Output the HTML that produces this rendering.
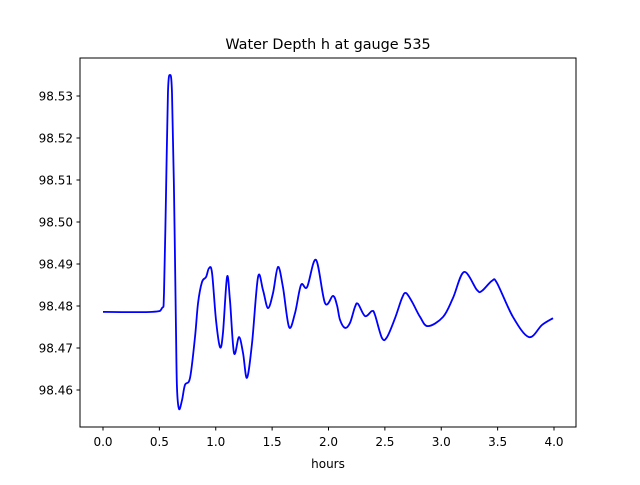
<!DOCTYPE html>
<html><head><meta charset="utf-8"><style>
body{margin:0;background:#fff}
text{font-family:"DejaVu Sans","Liberation Sans",sans-serif;fill:#000}
</style></head><body>
<svg id="chart" width="640" height="480" xmlns="http://www.w3.org/2000/svg">
<rect width="640" height="480" fill="#fff"/>
<text x="328" y="49" font-size="14.4" text-anchor="middle">Water Depth h at gauge 535</text>
<text x="328" y="468" font-size="12" text-anchor="middle">hours</text>
<g id="ticks"></g>
<path id="line" fill="none" stroke="#0000ff" stroke-width="1.8" stroke-linejoin="round"/>
<rect x="80" y="58" width="496" height="369" fill="none" stroke="#000" stroke-width="1"/>
</svg>
<script>
const hours=[0.0,0.435,0.523,0.541,0.559,0.576,0.594,0.612,0.630,0.647,0.656,0.674,0.701,0.727,0.772,0.816,0.843,0.878,0.914,0.940,0.967,1.002,1.038,1.064,1.100,1.126,1.162,1.206,1.242,1.277,1.322,1.375,1.419,1.463,1.508,1.552,1.596,1.650,1.703,1.756,1.810,1.889,1.969,2.040,2.075,2.102,2.146,2.191,2.235,2.262,2.324,2.386,2.412,2.474,2.519,2.590,2.652,2.687,2.741,2.812,2.882,3.016,3.104,3.202,3.317,3.361,3.450,3.494,3.636,3.778,3.894,3.991];
const depth=[98.4786,98.4786,98.4795,98.4831,98.5069,98.5307,98.5350,98.5307,98.5069,98.4750,98.4607,98.4555,98.4576,98.4612,98.4629,98.4726,98.4807,98.4857,98.4869,98.4890,98.4879,98.4767,98.4702,98.4736,98.4869,98.4814,98.4688,98.4726,98.4688,98.4629,98.4712,98.4869,98.4838,98.4795,98.4831,98.4893,98.4845,98.4750,98.4783,98.4850,98.4845,98.4910,98.4807,98.4824,98.4802,98.4767,98.4748,98.4760,98.4798,98.4805,98.4776,98.4788,98.4779,98.4724,98.4726,98.4771,98.4819,98.4831,98.4810,98.4774,98.4752,98.4774,98.4819,98.4881,98.4838,98.4836,98.4860,98.4855,98.4774,98.4726,98.4755,98.4771];
const xTicks=[0.0,0.5,1.0,1.5,2.0,2.5,3.0,3.5,4.0];
const yTicks=[98.46,98.47,98.48,98.49,98.50,98.51,98.52,98.53];
const xs=h=>103+h*112.75;
const ys=v=>306-(v-98.48)*4200;
const NS="http://www.w3.org/2000/svg";
const g=document.getElementById('ticks');
function mk(tag,attrs){const e=document.createElementNS(NS,tag);for(const k in attrs)e.setAttribute(k,attrs[k]);g.appendChild(e);return e;}
xTicks.forEach(t=>{
  const l=mk('line',{x1:xs(t),x2:xs(t),y1:427,y2:430.5,stroke:'#000'});
  
  
  const tx=mk('text',{x:xs(t),y:446,'font-size':12,'text-anchor':'middle'});
  
  
  tx.textContent=t.toFixed(1);
});
yTicks.forEach(t=>{
  const l=mk('line',{x1:76.5,x2:80,y1:ys(t),y2:ys(t),stroke:'#000'});
  
  
  const tx=mk('text',{x:73,y:ys(t)+4.5,'font-size':12,'text-anchor':'end'});
  
  
  tx.textContent=t.toFixed(2);
});
const P=hours.map((h,i)=>[xs(h),ys(depth[i])]);
let d='M'+P[0][0]+','+P[0][1];
for(let i=0;i<P.length-1;i++){
  const p0=P[Math.max(0,i-1)],p1=P[i],p2=P[i+1],p3=P[Math.min(P.length-1,i+2)];
  const c1=[p1[0]+(p2[0]-p0[0])/6,p1[1]+(p2[1]-p0[1])/6];
  const c2=[p2[0]-(p3[0]-p1[0])/6,p2[1]-(p3[1]-p1[1])/6];
  d+=' C'+c1[0].toFixed(2)+','+c1[1].toFixed(2)+' '+c2[0].toFixed(2)+','+c2[1].toFixed(2)+' '+p2[0].toFixed(2)+','+p2[1].toFixed(2);
}
document.getElementById('line').setAttribute('d',d);
</script>
</body></html>
